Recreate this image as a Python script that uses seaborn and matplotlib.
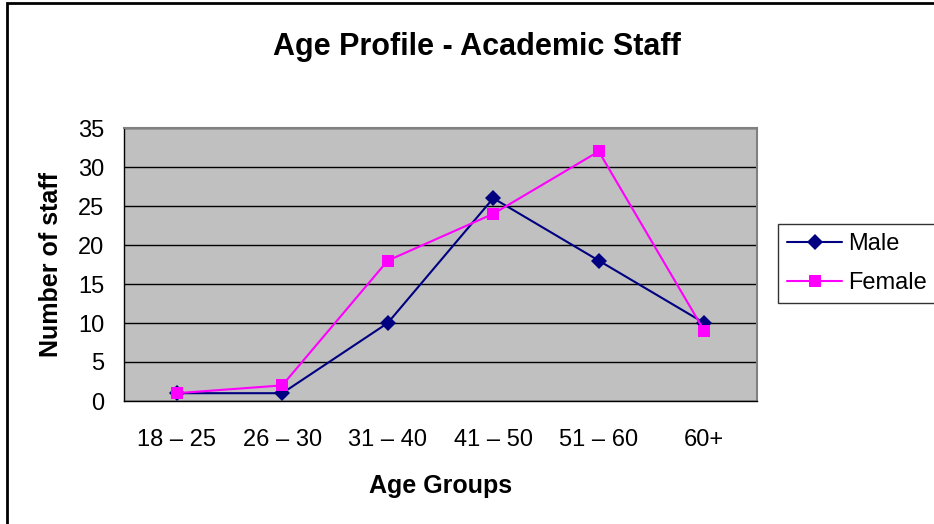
import matplotlib
matplotlib.use("Agg")
import matplotlib.pyplot as plt
import seaborn as sns
import pandas as pd
from matplotlib.patches import Rectangle

age_groups = ["18 – 25", "26 – 30", "31 – 40", "41 – 50", "51 – 60", "60+"]
male = [1, 1, 10, 26, 18, 10]
female = [1, 2, 18, 24, 32, 9]
y_ticks = [0, 5, 10, 15, 20, 25, 30, 35]

df = pd.DataFrame({
    "Age Groups": age_groups * 2,
    "Number of staff": male + female,
    "Gender": ["Male"] * len(male) + ["Female"] * len(female),
})

sns.set_style("white")
plt.rcParams["font.family"] = ["Liberation Sans", "DejaVu Sans"]
plt.rcParams.update({"text.color": "black", "axes.labelcolor": "black",
                     "xtick.color": "black", "ytick.color": "black"})

fig = plt.figure(figsize=(9.34, 5.24), dpi=100)
ax = fig.add_axes([124 / 934, 1 - 401 / 524, 633 / 934, 273 / 524])
ax.set_facecolor("#C0C0C0")

sns.lineplot(data=df, x="Age Groups", y="Number of staff", hue="Gender",
             style="Gender", markers={"Male": "D", "Female": "s"}, dashes=False,
             palette={"Male": "#000080", "Female": "#FF00FF"},
             markersize=8, linewidth=1.5, markeredgewidth=0, ax=ax, sort=False)

ax.set_xlim(-0.5, 5.5)
ax.set_ylim(0, 35)
ax.set_yticks(y_ticks)
ax.yaxis.grid(True, color="black", linewidth=1)
ax.set_axisbelow(True)

# Excel style: tick marks between categories, labels centred
ax.set_xticks([i - 0.5 for i in range(len(age_groups) + 1)])
ax.set_xticklabels([])
ax.set_xticks(range(len(age_groups)), minor=True)
ax.set_xticklabels(age_groups, minor=True)
ax.tick_params(axis="x", which="major", length=7, width=1, color="black", direction="out")
ax.tick_params(axis="x", which="minor", length=0, labelsize=17, pad=20)
ax.tick_params(axis="y", length=6, width=1, color="black", labelsize=17, pad=8)

for side in ["left", "bottom"]:
    ax.spines[side].set_color("black")
    ax.spines[side].set_linewidth(1)
for side in ["top", "right"]:
    ax.spines[side].set_color("#808080")
    ax.spines[side].set_linewidth(1.5)

ax.set_xlabel("Age Groups", fontsize=18, fontweight="bold", labelpad=17)
ax.set_ylabel("Number of staff", fontsize=18, fontweight="bold", labelpad=11)
fig.text(477 / 934, 1 - 47 / 524, "Age Profile - Academic Staff", fontsize=22,
         fontweight="bold", ha="center", va="center")

handles, labels = ax.get_legend_handles_labels()
ax.legend(handles, labels, loc="upper left",
          bbox_to_anchor=(778 / 934, 1 - 224 / 524), bbox_transform=fig.transFigure,
          frameon=True, fancybox=False, edgecolor="black", fontsize=17,
          handlelength=2.3, borderaxespad=0, borderpad=0.4, labelspacing=0.7,
          handletextpad=0.25)
ax.get_legend().get_frame().set_linewidth(1)

# outer chart border
fig.patches.append(Rectangle((7 / 934, -0.05), 1.1, 1 - 3 / 524 + 0.05,
                             transform=fig.transFigure, fill=False,
                             edgecolor="black", linewidth=2))

fig.savefig("out.png", dpi=100)
